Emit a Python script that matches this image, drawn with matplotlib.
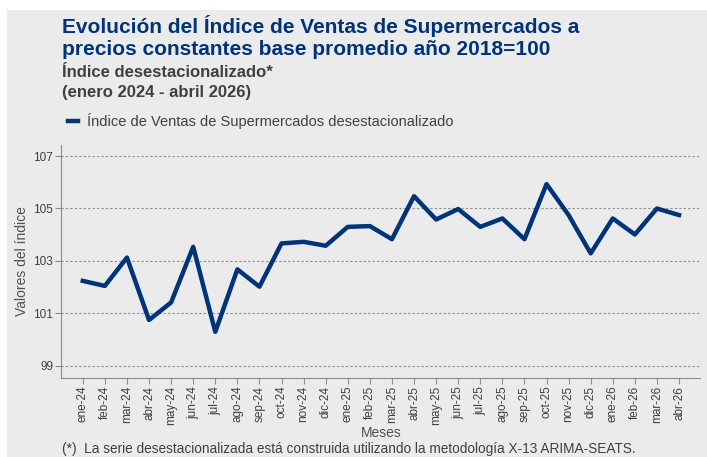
import numpy as np
import matplotlib
matplotlib.use("Agg")
import matplotlib.pyplot as plt
from matplotlib.patches import Rectangle

plt.rcParams['font.family'] = ['Liberation Sans', 'DejaVu Sans']

meses = ["ene-24", "feb-24", "mar-24", "abr-24", "may-24", "jun-24", "jul-24",
         "ago-24", "sep-24", "oct-24", "nov-24", "dic-24",
         "ene-25", "feb-25", "mar-25", "abr-25", "may-25", "jun-25", "jul-25",
         "ago-25", "sep-25", "oct-25", "nov-25", "dic-25",
         "ene-26", "feb-26", "mar-26", "abr-26"]
indice = [102.24, 102.05, 103.13, 100.75, 101.42, 103.54, 100.30,
          102.68, 102.02, 103.67, 103.73, 103.58,
          104.30, 104.33, 103.83, 105.47, 104.58, 104.98, 104.30,
          104.62, 103.83, 105.93, 104.75, 103.29,
          104.62, 104.01, 105.00, 104.75]
yticks = [99, 101, 103, 105, 107]

azul = "#003479"
gris_fondo = "#ebebeb"
gris_txt = "#404040"

W, H = 707, 457

fig = plt.figure(figsize=(W / 100, H / 100), dpi=100)
fig.patch.set_facecolor("white")
fig.patches.append(Rectangle((7 / W, 0), 1, 1 - 9.5 / H, transform=fig.transFigure,
                             facecolor=gris_fondo, edgecolor="none", zorder=-10))

ax = fig.add_axes([60.7 / W, 1 - 378 / H, (700 - 60.7) / W, (378 - 145) / H])
ax.set_facecolor(gris_fondo)
x = np.arange(len(meses))
ax.plot(x, indice, color=azul, linewidth=3.2,
        label="Índice de Ventas de Supermercados desestacionalizado")

ax.set_xlim(-1, 27.95)
ax.set_ylim(98.54, 107.42)
ax.set_yticks(yticks)
ax.set_yticklabels([str(v) for v in yticks], fontsize=8.5, color=gris_txt)
ax.set_xticks(x)
ax.set_xticklabels(meses, rotation=90, fontsize=8.5, color=gris_txt)
ax.grid(axis="y", linestyle=(0, (2, 2)), color="#8c8c8c", linewidth=0.8)
ax.tick_params(axis="both", color="#8c8c8c", length=4, width=0.8, pad=1.5)
for s in ["top", "right"]:
    ax.spines[s].set_visible(False)
for s in ["left", "bottom"]:
    ax.spines[s].set_color("#8c8c8c")
    ax.spines[s].set_linewidth(0.8)

ax.set_ylabel("Valores del índice", fontsize=10, color="#505050")
ax.yaxis.set_label_coords((29 - 60.7) / 639.3, 0.5)
ax.set_xlabel("Meses", fontsize=10, color="#505050")
ax.xaxis.set_label_coords(0.502, -(426 - 378) / 233)

fig.text(62 / W, 1 - 33.3 / H, "Evolución del Índice de Ventas de Supermercados a",
         fontsize=15, fontweight="bold", color=azul, va="baseline")
fig.text(62 / W, 1 - 55 / H, "precios constantes base promedio año 2018=100",
         fontsize=15, fontweight="bold", color=azul, va="baseline")
fig.text(62 / W, 1 - 77.3 / H, "Índice desestacionalizado*",
         fontsize=12, fontweight="bold", color=gris_txt, va="baseline")
fig.text(62 / W, 1 - 97 / H, "(enero 2024 - abril 2026)",
         fontsize=12, fontweight="bold", color=gris_txt, va="baseline")

fig.legend(loc="center left", bbox_to_anchor=(62 / W, 1 - 121 / H), frameon=False,
           fontsize=10.5, handlelength=0.7, handletextpad=0.62, labelcolor=gris_txt,
           borderaxespad=0, borderpad=0.4)

fig.text(62 / W, 1 - 453 / H, "(*)  La serie desestacionalizada está construida utilizando la metodología X-13 ARIMA-SEATS.",
         fontsize=9.8, color=gris_txt, va="baseline")

fig.savefig("out.png", dpi=100, facecolor=fig.get_facecolor())
